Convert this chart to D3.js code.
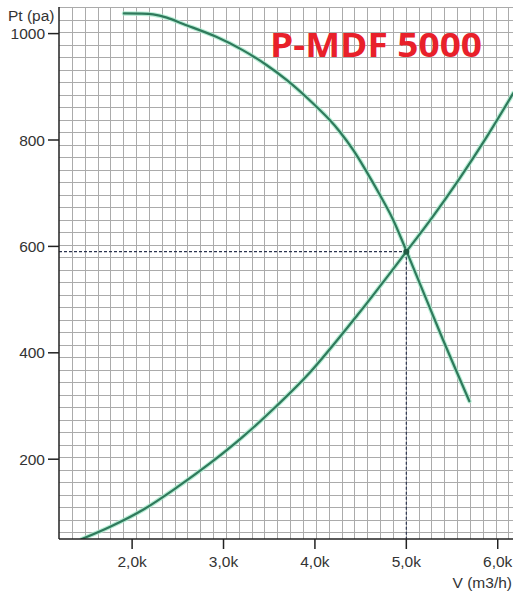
<!DOCTYPE html>
<html>
<head>
<meta charset="utf-8">
<script src="https://cdn.jsdelivr.net/npm/d3@7"></script>
<style>
  html, body { margin: 0; padding: 0; background: #fff; }
  svg { display: block; }
</style>
</head>
<body>
<svg id="chart" width="513" height="593"></svg>
<script>
// ---- data ----
const fanFlow = [1910, 2230, 2380, 2560, 2920, 3210, 3470, 3690, 3910, 4160, 4270, 4420, 4560, 4710, 4850, 5000, 5400, 5690];
const fanPressure = [1038, 1036, 1030, 1018, 994, 969, 941, 913, 880, 838, 816, 781, 742, 697, 652, 592, 425, 309];
const sysFlow = [1450, 1760, 2120, 2490, 2850, 3210, 3580, 3940, 4470, 5000, 5290, 5580, 5880, 6170];
const sysPressure = [50, 73, 105, 147, 192, 242, 300, 362, 472, 590, 656, 727, 806, 888];
const operatingPoint = [5000, 590];
const xTicks = [2000, 3000, 4000, 5000, 6000];
const xTickLabels = ["2,0k", "3,0k", "4,0k", "5,0k", "6,0k"];
const yTicks = [200, 400, 600, 800, 1000];
const yTickLabels = ["200", "400", "600", "800", "1000"];
const xDomain = [1200, 6200];
const yDomain = [50, 1050];
const gridStepX = 140.5;
const gridStepY = 23.5;
const title = "P-MDF 5000";
const yTitle = "Pt (pa)";
const xTitle = "V (m3/h)";

// ---- layout ----
const svg = d3.select("#chart");
const x = d3.scaleLinear().domain(xDomain).range([59, 516]);
const y = d3.scaleLinear().domain(yDomain).range([539, 7]);
const font = "'Liberation Sans', Arial, sans-serif";

svg.append("defs").append("clipPath").attr("id", "plot")
  .append("rect").attr("x", x(xDomain[0])).attr("y", y(yDomain[1]) - 1)
  .attr("width", x(xDomain[1]) - x(xDomain[0])).attr("height", y(yDomain[0]) - y(yDomain[1]) + 1);

// grid
const gx = d3.range(xDomain[0] + gridStepX, xDomain[1], gridStepX);
const gy = d3.range(yDomain[1], yDomain[0], -gridStepY);
const grid = svg.append("g").attr("stroke", "#ababab").attr("stroke-width", 1);
grid.selectAll("line.v").data(gx).join("line").attr("class", "v")
  .attr("x1", d => Math.round(x(d)) + 0.5).attr("x2", d => Math.round(x(d)) + 0.5)
  .attr("y1", y(yDomain[1])).attr("y2", y(yDomain[0]));
grid.selectAll("line.h").data(gy).join("line").attr("class", "h")
  .attr("y1", d => Math.round(y(d)) + 0.5).attr("y2", d => Math.round(y(d)) + 0.5)
  .attr("x1", x(xDomain[0])).attr("x2", x(xDomain[1]));

// title
svg.append("text").attr("x", 270).attr("y", 57)
  .attr("font-family", "'Open Sans', 'Noto Sans', sans-serif").attr("font-weight", "bold")
  .attr("font-size", 34).attr("fill", "#e8202a")
  .attr("textLength", 212).attr("lengthAdjust", "spacingAndGlyphs")
  .text(title);

// operating point dashed guides
const guides = svg.append("g").attr("stroke", "#2c3550").attr("stroke-width", 1.2)
  .attr("stroke-dasharray", "3,2").attr("fill", "none");
guides.append("line").attr("x1", x(xDomain[0])).attr("x2", x(operatingPoint[0]))
  .attr("y1", y(operatingPoint[1])).attr("y2", y(operatingPoint[1]));
guides.append("line").attr("x1", x(operatingPoint[0])).attr("x2", x(operatingPoint[0]))
  .attr("y1", y(operatingPoint[1])).attr("y2", y(yDomain[0]));

// curves
const line = d3.line().x(d => x(d[0])).y(d => y(d[1])).curve(d3.curveCatmullRom.alpha(0.5));
const fanData = fanFlow.map((v, i) => [v, fanPressure[i]]);
const sysData = sysFlow.map((v, i) => [v, sysPressure[i]]);
const curves = svg.append("g").attr("clip-path", "url(#plot)").attr("fill", "none")
  .attr("stroke-linecap", "round").attr("stroke-linejoin", "round");
[fanData, sysData].forEach(data => {
  curves.append("path").attr("d", line(data)).attr("stroke", "#a6e8cb").attr("stroke-width", 4.5).attr("opacity", 0.8);
  curves.append("path").attr("d", line(data)).attr("stroke", "#2f7a5c").attr("stroke-width", 2.2);
});
svg.append("circle").attr("cx", x(operatingPoint[0])).attr("cy", y(operatingPoint[1]))
  .attr("r", 3).attr("fill", "#1f5a42");

// axes
const axes = svg.append("g").attr("stroke", "#222").attr("stroke-width", 1.5);
axes.append("line").attr("x1", x(xDomain[0])).attr("x2", x(xDomain[0]))
  .attr("y1", y(yDomain[1])).attr("y2", y(yDomain[0]));
axes.append("line").attr("x1", x(xDomain[0])).attr("x2", 513)
  .attr("y1", y(yDomain[0])).attr("y2", y(yDomain[0]));
axes.selectAll("line.yt").data(yTicks).join("line").attr("class", "yt")
  .attr("x1", x(xDomain[0]) - 11).attr("x2", x(xDomain[0]))
  .attr("y1", d => y(d)).attr("y2", d => y(d));
axes.selectAll("line.xt").data(xTicks).join("line").attr("class", "xt")
  .attr("x1", d => x(d)).attr("x2", d => x(d))
  .attr("y1", y(yDomain[0])).attr("y2", y(yDomain[0]) + 10);

const labels = svg.append("g").attr("font-family", font).attr("fill", "#333").attr("font-size", 15.5);
labels.selectAll("text.yl").data(yTicks).join("text").attr("class", "yl")
  .attr("x", x(xDomain[0]) - 14).attr("y", d => y(d)).attr("dy", "0.36em")
  .attr("text-anchor", "end").text((d, i) => yTickLabels[i]);
labels.selectAll("text.xl").data(xTicks).join("text").attr("class", "xl")
  .attr("x", d => x(d)).attr("y", 567)
  .attr("text-anchor", "middle").text((d, i) => xTickLabels[i]);
labels.append("text").attr("x", 8).attr("y", 21).text(yTitle);
labels.append("text").attr("x", 512).attr("y", 588).attr("text-anchor", "end").text(xTitle);
</script>
</body>
</html>
